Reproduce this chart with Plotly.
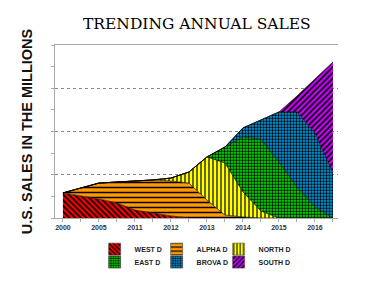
import plotly.graph_objects as go

# ---- data ----
period_pos = [0, 0.5, 1, 1.5, 2, 2.5, 3, 3.5, 4, 4.5, 5, 5.5, 6, 6.5, 7, 7.5]
tick_pos = [0, 1, 2, 3, 4, 5, 6, 7]
tick_labels = ["2000", "2005", "2011", "2012", "2013", "2014", "2015", "2016"]

west_d = [14.5, 12.7, 11.0, 8.7, 4.6, 2.9, 1.2, 0, 0, 0, 0, 0, 0, 0, 0, 0]
alpha_d = [0, 4.6, 9.2, 12.1, 16.8, 19.1, 20.2, 20.2, 10.4, 1.7, 0.6, 0, 0, 0, 0, 0]
north_d = [0, 0, 0, 0, 0, 0, 1.7, 6.4, 24.9, 30.1, 14.5, 4.0, 0, 0, 0, 0]
east_d = [0, 0, 0, 0, 0, 0, 0, 0, 0, 9.2, 31.8, 41.6, 32.4, 17.9, 6.4, 0]
brova_d = [0, 0, 0, 0, 0, 0, 0, 0, 0, 0, 5.2, 11.0, 28.9, 43.4, 42.8, 26.0]
south_d = [0, 0, 0, 0, 0, 0, 0, 0, 0, 0, 0, 0, 0, 9.2, 31.2, 64.2]

series_names = ["WEST D", "ALPHA D", "NORTH D", "EAST D", "BROVA D", "SOUTH D"]
series_values = [west_d, alpha_d, north_d, east_d, brova_d, south_d]

# ---- styles ----
colors = ["#ff0000", "#ff9900", "#ffff00", "#00e000", "#0099e0", "#cc00ff"]
shapes_ = ["\\", "-", "|", ".", ".", "/"]
sizes = [4, 5, 4, 3, 3, 4]
solid = [0.45, 0.3, 0.3, 0.45, 0.45, 0.45]
legend_ids = ["legend", "legend", "legend", "legend2", "legend2", "legend2"]
legend_widths = [17, 17, 40, 17, 17, 40]

fig = go.Figure()
for name, vals, c, sh, sz, so in zip(series_names, series_values, colors, shapes_, sizes, solid):
    fig.add_trace(go.Scatter(
        x=period_pos, y=vals, name=name, mode="lines", stackgroup="one",
        line=dict(color="black", width=0.6),
        fillcolor=c,
        fillpattern=dict(shape=sh, bgcolor=c, fgcolor="black", size=sz,
                         solidity=so, fillmode="replace"),
        showlegend=False, hoverinfo="skip",
    ))

# legend entries as square patterned swatches
for name, c, sh, sz, so, lg, lw in zip(series_names, colors, shapes_, sizes, solid,
                                       legend_ids, legend_widths):
    fig.add_trace(go.Bar(
        x=[None], y=[None], name=name, legend=lg, legendwidth=lw,
        marker=dict(color=c, line=dict(color="#444", width=0.6),
                    pattern=dict(shape=sh, bgcolor=c, fgcolor="black", size=sz,
                                 solidity=so, fillmode="replace")),
    ))

legend_common = dict(
    orientation="h", xanchor="left", yanchor="middle", traceorder="normal",
    font=dict(family="Liberation Sans", size=7, color="#222", weight="bold"),
    entrywidthmode="pixels", itemwidth=30,
    bgcolor="rgba(0,0,0,0)", tracegroupgap=0,
)

fig.update_layout(
    width=386, height=290,
    margin=dict(l=55, r=48, t=45, b=72),
    paper_bgcolor="white", plot_bgcolor="white",
    title=dict(text="TRENDING ANNUAL SALES", x=0.51, xanchor="center",
               y=0.918, yanchor="middle",
               font=dict(family="DejaVu Serif", size=15.5, color="#000")),
    legend=dict(x=0.14, y=-0.18, **legend_common),
    legend2=dict(x=0.14, y=-0.255, **legend_common),
    xaxis=dict(
        range=[-0.22, 7.64], tickvals=tick_pos, ticktext=tick_labels,
        showgrid=False, zeroline=False,
        showline=True, linecolor="#aaaaaa", linewidth=1, mirror=True,
        ticks="outside", ticklen=3, tickcolor="#aaaaaa",
        minor=dict(dtick=0.5, tick0=0, ticks="outside", ticklen=3, tickcolor="#aaaaaa"),
        tickfont=dict(family="Liberation Sans", size=7, color="#333", weight="bold"),
    ),
    yaxis=dict(
        range=[0, 100], dtick=25, tick0=0,
        showticklabels=False, zeroline=False,
        showgrid=True, gridcolor="#888888", griddash="dot", gridwidth=1,
        showline=True, linecolor="#aaaaaa", linewidth=1,
        ticks="outside", ticklen=3, tickcolor="#aaaaaa",
        minor=dict(dtick=12.5, ticks="outside", ticklen=3, tickcolor="#aaaaaa", showgrid=False),
        title=dict(text="U.S. SALES IN THE MILLIONS", standoff=14,
                   font=dict(family="Liberation Sans", size=14.5, color="#111", weight="bold")),
    ),
)

fig.write_html("out.html")
